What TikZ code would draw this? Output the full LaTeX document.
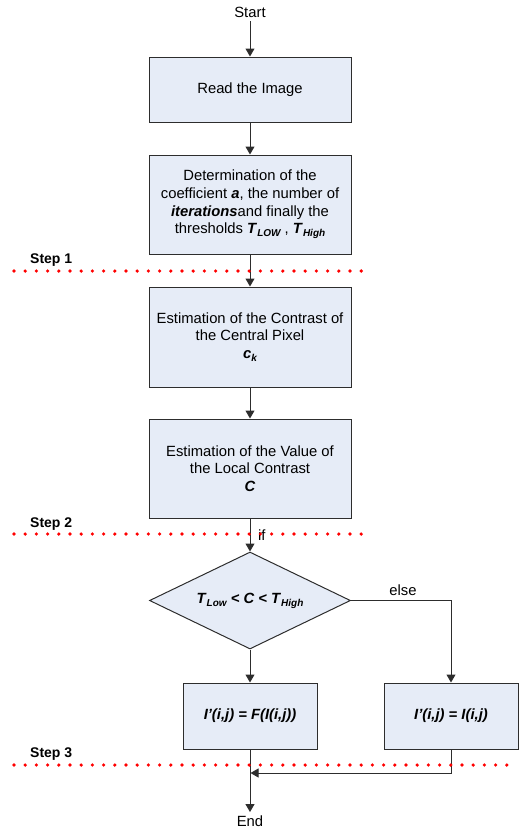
\documentclass[tikz,border=0pt]{standalone}
\usepackage{fontspec}
\setmainfont{Liberation Sans}
\usetikzlibrary{shapes.geometric,arrows.meta}
\definecolor{boxfill}{RGB}{230,236,247}
\definecolor{edge}{RGB}{45,45,45}
\newcommand\bi[1]{\textbf{\textit{#1}}}
\newcommand\lowsub[1]{\raisebox{-0.4ex}{\fontsize{10}{10}\selectfont\bfseries\itshape #1}}
\begin{document}
\begin{tikzpicture}[x=1pt,y=-1pt,
 every node/.style={font=\fontsize{14.8}{17.6}\selectfont},
 box/.style={draw=edge, line width=1pt, fill=boxfill, align=center, inner sep=0pt},
 dec/.style={shape=diamond, aspect=2.07, draw=edge, line width=1pt, fill=boxfill, minimum width=201pt, minimum height=97pt, inner sep=0pt},
 arr/.style={draw=edge, line width=1pt, -{Triangle[length=8pt,width=9pt]}},
 dotline/.style={red, line width=3.6pt, line cap=round, dash pattern=on 0pt off 11.2pt},
 lbl/.style={inner sep=0pt},
 steplbl/.style={font=\fontsize{14}{14}\selectfont\bfseries, anchor=west, inner sep=0pt}
]
\useasboundingbox (0,0) rectangle (520,830);

\node (start) at (250,12.5) {Start};
\node[box, minimum width=202pt, minimum height=65pt] (b1) at (250,89.5) {Read the Image};
\node[box, minimum width=202pt, minimum height=99pt] (b2) at (250,204.5)
  {Determination of the\\ coefficient \bi{a}, the number of\\ \bi{iterations}and finally the\\ thresholds \bi{T}\lowsub{LOW} , \bi{T}\lowsub{High}};
\node[box, minimum width=202pt, minimum height=100pt] (b3) at (250,337)
  {Estimation of the Contrast of\\ the Central Pixel\\ \bi{c}\lowsub{k}};
\node[box, minimum width=202pt, minimum height=99pt] (b4) at (250,468.5)
  {Estimation of the Value of\\ the Local Contrast\\ \bi{C}};
\node[dec] (d) at (250,600.5) {\bi{T}\lowsub{Low} \bi{< C <} \bi{T}\lowsub{High}};
\node[box, minimum width=134pt, minimum height=66pt] (b5) at (250,716) {\bi{I’(i,j) = F(I(i,j))}};
\node[box, minimum width=134pt, minimum height=66pt] (b6) at (451,716) {\bi{I’(i,j) = I(i,j)}};
\node (end) at (250,821) {End};
\coordinate (join) at (250.5,773);

\node[lbl, anchor=west] (iflbl) at (258,535) {if};
\node[lbl] (elselbl) at (403,590) {else};
\node[steplbl] (s1) at (30,260) {Step 1};
\node[steplbl] (s2) at (30,524) {Step 2};
\node[steplbl] (s3) at (30,754) {Step 3};

\draw[arr] (start) -- (b1);
\draw[arr] (b1) -- (b2);
\draw[arr] (b2) -- (b3);
\draw[arr] (b3) -- (b4);
\draw[arr] (b4.south) -- (d.north);
\draw[arr] (d.south) -- (b5.north);
\draw[arr] (d.east) -| (b6.north);
\draw[arr] (b6.south) |- (join);
\draw[arr] (b5.south) -- (end.north);

\draw[dotline] (14,271) -- (372,271);
\draw[dotline] (14,534) -- (372,534);
\draw[dotline] (14,765) -- (508,765);
\end{tikzpicture}
\end{document}
